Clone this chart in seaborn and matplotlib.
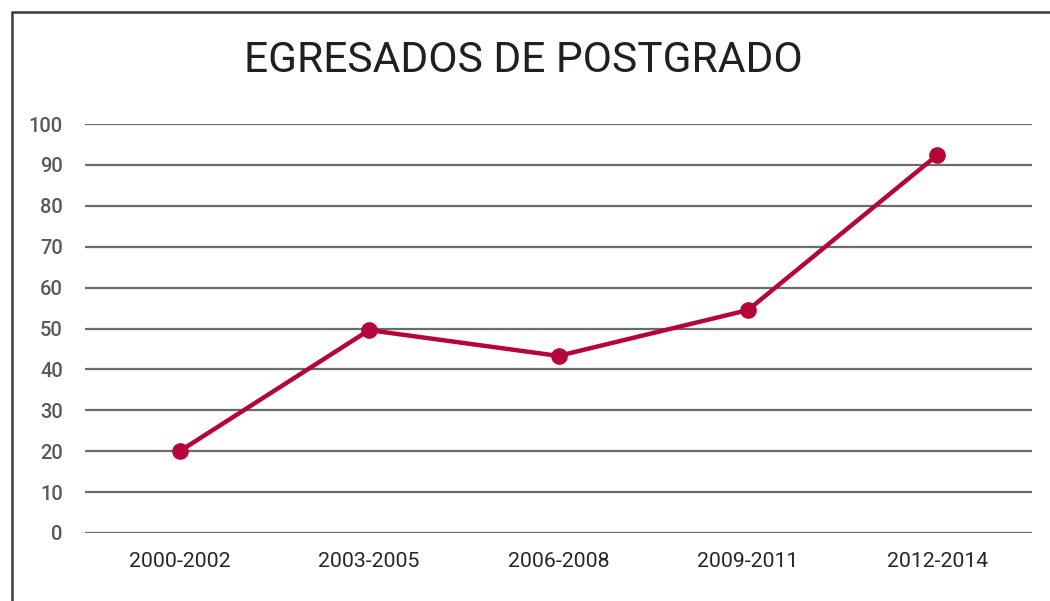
import matplotlib
matplotlib.use("Agg")
import matplotlib.pyplot as plt
import seaborn as sns
import pandas as pd
from matplotlib.patches import Rectangle

periods = ["2000-2002", "2003-2005", "2006-2008", "2009-2011", "2012-2014"]
graduates = [20.0, 49.6, 43.3, 54.5, 92.4]
y_ticks = [0, 10, 20, 30, 40, 50, 60, 70, 80, 90, 100]

sns.set_theme(style="white")
plt.rcParams['font.family'] = ['Roboto', 'DejaVu Sans']

df = pd.DataFrame({"period": periods, "graduates": graduates})

fig = plt.figure(figsize=(10.5, 6.01), dpi=100)
ax = fig.add_axes([85/1050, 68/601, 947/1050, 409/601])

for t in y_ticks:
    ax.axhline(t, color="#6b6b6b", lw=1.6, zorder=1)

sns.lineplot(data=df, x="period", y="graduates", ax=ax, color="#b5053a",
             lw=3.2, marker="o", markersize=12, markeredgewidth=0,
             sort=False, zorder=3, clip_on=False)

ax.set_xlim(-0.5, len(periods) - 0.5)
ax.set_ylim(0, 100)
ax.set_yticks(y_ticks)
ax.set_yticklabels([str(t) for t in y_ticks], color="#595959", fontsize=14.5,
                   fontweight="medium")
ax.set_xticks(range(len(periods)))
ax.set_xticklabels(periods, color="#262626", fontsize=15.3)
ax.tick_params(axis="y", length=0, pad=16)
ax.tick_params(axis="x", length=0, pad=14)
ax.set_xlabel("")
ax.set_ylabel("")
for s in ax.spines.values():
    s.set_visible(False)
ax.grid(False)

fig.text(523/1050, 1 - 60/601, "EGRESADOS DE POSTGRADO", ha="center", va="center",
         fontsize=30.6, color="#231f20")

fig.add_artist(Rectangle((11.5/1050, -0.1), 1.2, 1.1 - 11.5/601 + 0.0,
                         transform=fig.transFigure, fill=False,
                         edgecolor="#3a3a3a", lw=1.8))

fig.savefig("out.png", dpi=100)
